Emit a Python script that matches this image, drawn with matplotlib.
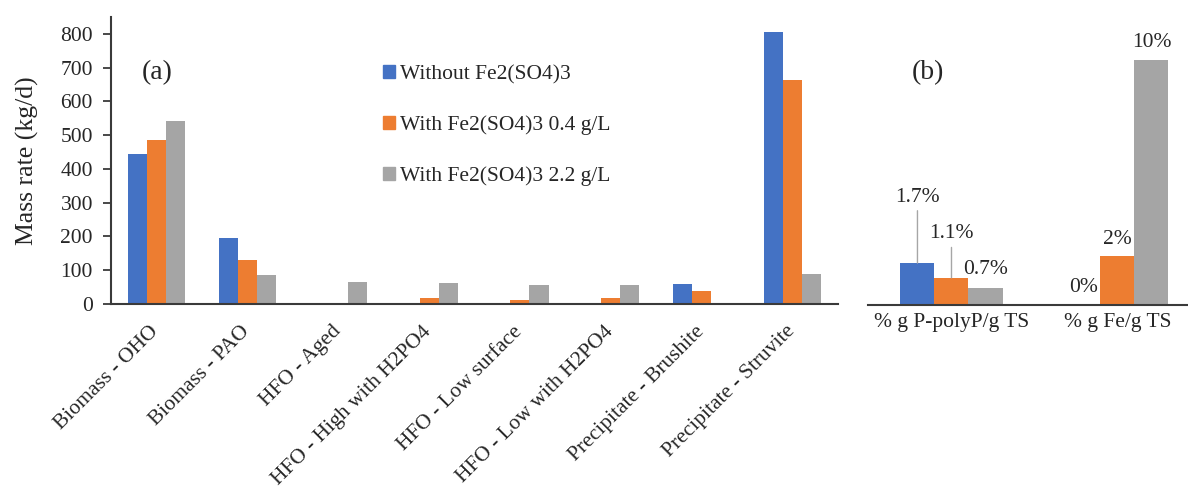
import matplotlib
matplotlib.use("Agg")
import matplotlib.pyplot as plt
from matplotlib.patches import Patch
from matplotlib.transforms import ScaledTranslation
import numpy as np

plt.rcParams['font.family'] = ['Liberation Serif', 'DejaVu Serif']

# panel (a) data
categories = ['Biomass - OHO', 'Biomass - PAO', 'HFO - Aged', 'HFO - High with H2PO4',
              'HFO - Low surface', 'HFO - Low with H2PO4', 'Precipitate - Brushite',
              'Precipitate - Struvite']
without_fe = [444, 196, 0, 0, 0, 0, 59, 807]
fe_04 = [485, 129, 4, 19, 11, 18, 39, 663]
fe_22 = [542, 86, 64, 62, 57, 57, 0, 89]
series_names = ['Without Fe2(SO4)3', 'With Fe2(SO4)3 0.4 g/L', 'With Fe2(SO4)3 2.2 g/L']
yticks_a = [0, 100, 200, 300, 400, 500, 600, 700, 800]

# panel (b) data (percent)
b_categories = ['% g P-polyP/g TS', '% g Fe/g TS']
b_without = [1.7, 0]
b_04 = [1.1, 2]
b_22 = [0.7, 10]

colors = ['#4472C4', '#ED7D31', '#A5A5A5']
txt = '#262626'
spine = '#3a3a3a'
fs = 15.5

fig = plt.figure(figsize=(11.88, 4.91), dpi=100)
W, H = 1188, 491

def px_axes(l, r, top, bot):
    return fig.add_axes([l / W, 1 - bot / H, (r - l) / W, (bot - top) / H])

ax = px_axes(111, 838, 17, 304)
axb = px_axes(868, 1188, 17, 304.7)

# ---- panel (a)
x = np.arange(len(categories))
w = 0.21
for i, vals in enumerate([without_fe, fe_04, fe_22]):
    ax.bar(x + (i - 1) * w, vals, w, color=colors[i], label=series_names[i])
ax.set_xlim(-0.5, len(categories) - 0.5)
ax.set_ylim(0, 850)
ax.set_yticks(yticks_a)
ax.tick_params(axis='y', direction='out', length=6, width=1.3, color=spine,
               labelsize=fs, labelcolor=txt, pad=7)
ax.set_xticks(x)
ax.set_xticklabels(categories, rotation=45, ha='right', rotation_mode='anchor',
                   fontsize=fs, color=txt)
ax.tick_params(axis='x', length=0, pad=8)
shift = ScaledTranslation(-7 / 100, -7 / 100, fig.dpi_scale_trans)
for lab in ax.get_xticklabels():
    lab.set_transform(lab.get_transform() + shift)
ax.set_ylabel('Mass rate (kg/d)', fontsize=18.5, color=txt, labelpad=15)
for s in ['top', 'right']:
    ax.spines[s].set_visible(False)
for s in ['left', 'bottom']:
    ax.spines[s].set_color(spine)
    ax.spines[s].set_linewidth(1.5)
ax.text(0.063, 0.805, '(a)', transform=ax.transAxes, fontsize=20, color=txt,
        ha='center', va='center')

handles = [Patch(color=c) for c in colors]
fig.legend(handles, series_names, loc='upper left', bbox_to_anchor=(383 / W, 1 - 65 / H),
           frameon=False, fontsize=fs, handlelength=0.55, handleheight=0.55,
           handletextpad=0.25, labelspacing=1.45, borderpad=0, borderaxespad=0,
           labelcolor=txt)

# ---- panel (b)
xb = np.arange(len(b_categories))
wb = 0.205
# label offsets (pixels above bar top), first two raised with leader lines
lift = [[66, 17], [44, 16], [18, 17]]
for i, vals in enumerate([b_without, b_04, b_22]):
    pos = xb + (i - 1) * wb
    axb.bar(pos, vals, wb, color=colors[i])
    for j, (p, v) in enumerate(zip(pos, vals)):
        d = lift[i][j]
        leader = d > 30
        axb.annotate(f'{v:g}%', xy=(p, v), xytext=(0, d), textcoords='offset pixels',
                     ha='center', va='center', fontsize=fs, color=txt,
                     arrowprops=dict(arrowstyle='-', color='#A6A6A6', lw=1,
                                     shrinkA=1, shrinkB=0) if leader else None)
axb.set_xlim(-0.503, 1.425)
axb.set_ylim(0, 11.75)
axb.set_yticks([])
axb.set_xticks(xb)
axb.set_xticklabels(b_categories, fontsize=fs, color=txt)
axb.tick_params(axis='x', length=0, pad=6)
for s in ['top', 'right', 'left']:
    axb.spines[s].set_visible(False)
axb.spines['bottom'].set_color(spine)
axb.spines['bottom'].set_linewidth(1.5)
axb.text(0.186, 0.805, '(b)', transform=axb.transAxes, fontsize=20, color=txt,
         ha='center', va='center')

fig.savefig('out.png', dpi=100)
